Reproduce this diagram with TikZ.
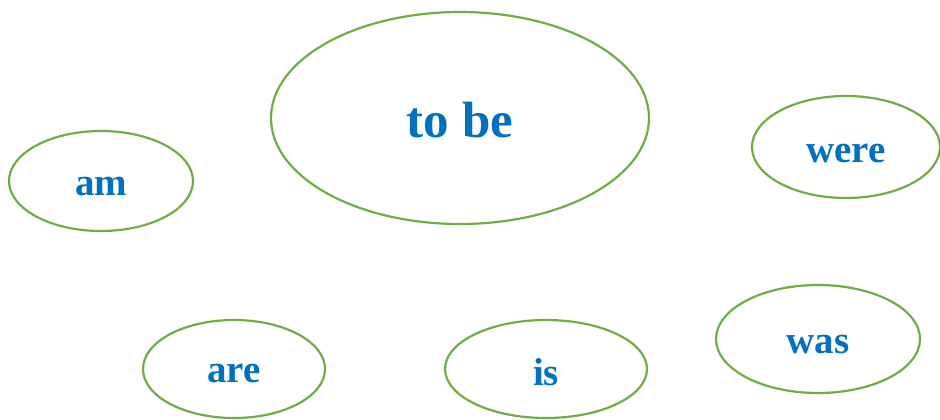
\documentclass[tikz,border=0pt]{standalone}
\usepackage{fontspec}
\setmainfont{Liberation Serif}
\usetikzlibrary{shapes.geometric}
\definecolor{leafgreen}{HTML}{70AD47}
\definecolor{wordblue}{HTML}{0070C0}
\tikzset{word/.style={ellipse, draw=leafgreen, line width=1.1pt, inner sep=0pt, text depth=0pt, text=wordblue, font=\bfseries\fontsize{19.5}{19.5}\selectfont}}
\begin{document}
\begin{tikzpicture}[x=0.5pt, y=-0.5pt]
					\useasboundingbox (0,0) rectangle (940,419);
					\node[word, minimum width=189pt, minimum height=106pt, text height=19pt, font=\bfseries\fontsize{25.5}{25.5}\selectfont] (tobe) at (460,118) {to be};
					\node[word, minimum width=92pt, minimum height=50pt, text height=14pt] (am) at (101,181) {am};
					\node[word, minimum width=94pt, minimum height=51pt, text height=15pt] (were) at (846,147) {were};
					\node[word, minimum width=91pt, minimum height=49pt, text height=13.5pt] (are) at (234,369) {are};
					\node[word, minimum width=101pt, minimum height=49pt, text height=16pt] (is) at (546,369) {is};
					\node[word, minimum width=102pt, minimum height=54pt, text height=14pt] (was) at (818,339) {was};
			\end{tikzpicture}
\end{document}
